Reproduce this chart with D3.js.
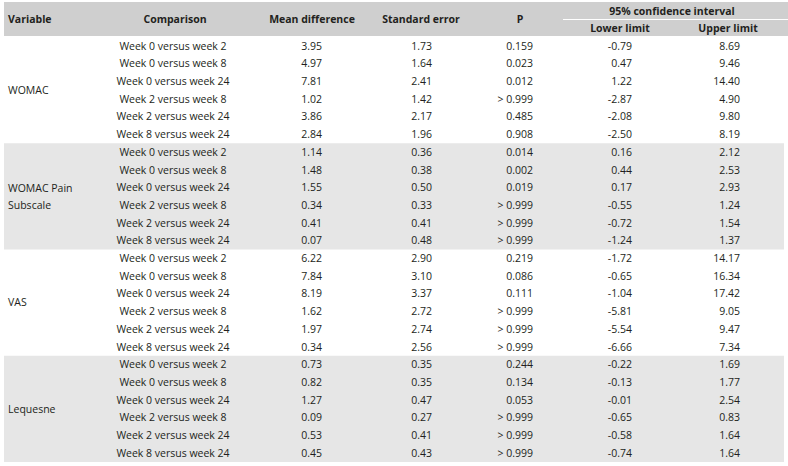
<!DOCTYPE html>
<html><head><meta charset="utf-8">
<script src="https://cdn.jsdelivr.net/npm/d3@7"></script>
<style>
html,body{margin:0;padding:0;background:#fff;}
text{font-family:"Open Sans","Noto Sans",sans-serif;fill:#231f20;}
</style></head>
<body><svg id="t" width="788" height="466"></svg>
<script>
const variables = ["WOMAC", "WOMAC Pain Subscale", "VAS", "Lequesne"];
const comparisons = ["Week 0 versus week 2","Week 0 versus week 8","Week 0 versus week 24","Week 2 versus week 8","Week 2 versus week 24","Week 8 versus week 24"];
const meanDiff = [
  [3.95,4.97,7.81,1.02,3.86,2.84],
  [1.14,1.48,1.55,0.34,0.41,0.07],
  [6.22,7.84,8.19,1.62,1.97,0.34],
  [0.73,0.82,1.27,0.09,0.53,0.45]];
const stdErr = [
  [1.73,1.64,2.41,1.42,2.17,1.96],
  [0.36,0.38,0.50,0.33,0.41,0.48],
  [2.90,3.10,3.37,2.72,2.74,2.56],
  [0.35,0.35,0.47,0.27,0.41,0.43]];
const pValues = [
  ["0.159","0.023","0.012","> 0.999","0.485","0.908"],
  ["0.014","0.002","0.019","> 0.999","> 0.999","> 0.999"],
  ["0.219","0.086","0.111","> 0.999","> 0.999","> 0.999"],
  ["0.244","0.134","0.053","> 0.999","> 0.999","> 0.999"]];
const lowerLimit = [
  [-0.79,0.47,1.22,-2.87,-2.08,-2.50],
  [0.16,0.44,0.17,-0.55,-0.72,-1.24],
  [-1.72,-0.65,-1.04,-5.81,-5.54,-6.66],
  [-0.22,-0.13,-0.01,-0.65,-0.58,-0.74]];
const upperLimit = [
  [8.69,9.46,14.40,4.90,9.80,8.19],
  [2.12,2.53,2.93,1.24,1.54,1.37],
  [14.17,16.34,17.42,9.05,9.47,7.34],
  [1.69,1.77,2.54,0.83,1.64,1.64]];
const headers = ["Variable","Comparison","Mean difference","Standard error","P"];
const ciHeader = "95% confidence interval";
const ciSub = ["Lower limit","Upper limit"];

const svg = d3.select("#t");
const fmt = d3.formatLocale({decimal:".",thousands:",",grouping:[3],currency:["$",""],minus:"-"}).format(".2f");
const rows = [];
variables.forEach((v,g)=>comparisons.forEach((c,k)=>rows.push({g,k,c,
  md:fmt(meanDiff[g][k]), se:fmt(stdErr[g][k]), p:pValues[g][k],
  lo:fmt(lowerLimit[g][k]), up:fmt(upperLimit[g][k])})));

const y = d3.scaleBand().domain(d3.range(rows.length)).range([37,462]);
const left = 4, right = 784;

// header background
svg.append("rect").attr("x",left).attr("y",2).attr("width",788-left).attr("height",34).attr("fill","#cfcfcf");
// group bands
svg.selectAll("rect.band").data(variables.map((v,i)=>i).filter(i=>i%2===1)).join("rect")
  .attr("class","band").attr("x",left).attr("width",right-left)
  .attr("y",i=>y(i*6)).attr("height",y.step()*6).attr("fill","#e6e6e6");
// white line under CI header
svg.append("line").attr("x1",563).attr("x2",788).attr("y1",19.5).attr("y2",19.5).attr("stroke","#fff").attr("stroke-width",1.2);

const hdr = svg.append("g").style("font-weight",700).style("font-size","10.5px");
const hx = [8,175,312,421,520];
headers.forEach((h,i)=>hdr.append("text").attr("x",hx[i]).attr("y",19).attr("dy","0.35em")
  .attr("text-anchor",i===0?"start":"middle").text(h));
hdr.append("text").attr("x",672).attr("y",11).attr("dy","0.35em").attr("text-anchor","middle").text(ciHeader);
[620,728].forEach((x,i)=>hdr.append("text").attr("x",x).attr("y",28).attr("dy","0.35em").attr("text-anchor","middle").text(ciSub[i]));

const body = svg.append("g").style("font-size","10.5px");
const cols = [
  {key:"c",x:173,a:"middle"},
  {key:"md",x:322,a:"end"},
  {key:"se",x:432,a:"end"},
  {key:"p",x:533,a:"end"},
  {key:"lo",x:632,a:"end"},
  {key:"up",x:740,a:"end"}];
const rowG = body.selectAll("g.row").data(rows).join("g").attr("class","row")
  .attr("transform",(d,i)=>`translate(0,${y(i)+y.bandwidth()/2})`);
cols.forEach(c=>rowG.append("text").attr("x",c.x).attr("dy","0.35em").attr("text-anchor",c.a).text(d=>d[c.key]));

// variable labels
variables.forEach((v,g)=>{
  const cy = y(g*6) + y.step()*3;
  const lines = v==="WOMAC Pain Subscale" ? ["WOMAC Pain","Subscale"] : [v];
  lines.forEach((l,j)=>body.append("text").attr("x",8)
    .attr("y",cy + (j-(lines.length-1)/2)*17).attr("dy","0.35em").text(l));
});
</script></body></html>
